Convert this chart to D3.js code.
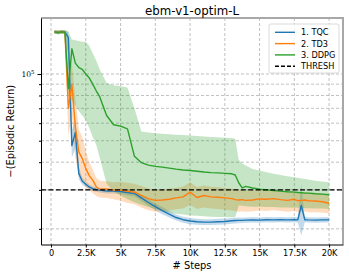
<!DOCTYPE html>
<html>
<head>
<meta charset="utf-8">
<script src="https://cdn.jsdelivr.net/npm/d3@7"></script>
<style>
  body { margin: 0; background: #fff; }
  text { font-family: "DejaVu Sans", sans-serif; fill: #000; }
</style>
</head>
<body>
<div id="chart"></div>
<script>
// evaluation steps
const steps = [250, 500, 750, 1000, 1250, 1500, 1750, 2000, 2250, 2500, 2750, 3000, 3250, 3500,
    4000, 4500, 5000, 5500, 6000, 6500, 7000, 7500, 8000, 8500, 9000, 9500, 10000, 10500, 11000,
    11500, 12000, 12500, 13000, 13250, 13500, 13750, 14000, 14500, 15000, 15500, 16000, 16500,
    17000, 17500, 17750, 18000, 18250, 18500, 19000, 19500, 20000];

// 1. TQC
const tqcMean = [155000, 154000, 155000, 154500, 146000, 47500, 54500, 35500, 32800, 31800, 30900, 30400, 30100, 29900,
    29600, 29600, 29500, 29200, 28900, 27600, 26300, 25200, 24200, 23300, 22500, 22000, 21700, 21550, 21450,
    21450, 21550, 21600, 21750, 21800, 21850, 21850, 21900, 21950, 21900, 22000, 21950, 22000,
    21950, 22000, 21950, 25500, 22000, 21950, 21900, 21950, 21950];
const tqcLo = [152000, 151000, 152000, 151500, 120000, 42000, 46000, 33500, 31600, 30900, 30100, 29700, 29400, 29200,
    28900, 28900, 28700, 28300, 28000, 26700, 25400, 24300, 23300, 22500, 21800, 21300, 21000, 20900, 20800,
    20800, 20900, 20950, 21100, 21150, 21200, 21250, 21300, 21350, 21300, 21400, 21350, 21400,
    21350, 21400, 21350, 18700, 21400, 21350, 21300, 21350, 21350];
const tqcHi = [158000, 157000, 158000, 157500, 155000, 56000, 62000, 38000, 34000, 32800, 31700, 31100, 30800, 30600,
    30300, 30300, 30300, 30100, 29800, 28500, 27200, 26100, 25100, 24100, 23200, 22700, 22400, 22200, 22100,
    22100, 22200, 22250, 22400, 22450, 22500, 22450, 22500, 22550, 22500, 22600, 22550, 22600,
    22550, 22600, 22550, 32000, 22600, 22550, 22500, 22550, 22550];

// 2. TD3
const td3Mean = [155000, 154000, 155000, 154500, 70000, 90000, 58000, 44500, 41500, 37500, 34800, 33200, 31000, 30200,
    30300, 29900, 29900, 29550, 29300, 28300, 27400, 26900, 27000, 27200, 27600, 27900, 29300, 27700, 28300,
    27900, 27800, 27600, 27400, 27100, 27000, 27100, 26900, 27000, 27300, 27200, 27400, 27100,
    26900, 27200, 26800, 26900, 27000, 26800, 26700, 26500, 26100];
const td3Lo = [152000, 151000, 152000, 151500, 52000, 66000, 42000, 35500, 33000, 31000, 29800, 29000, 28200, 27700,
    27600, 27200, 26800, 26200, 25800, 25000, 24300, 23900, 24000, 24200, 24500, 24700, 25600, 24600, 25000,
    24700, 24600, 24400, 24200, 24000, 23900, 24000, 23900, 24000, 24200, 24100, 24300, 24100,
    23900, 24100, 23800, 23900, 24000, 23800, 23800, 23700, 23500];
const td3Hi = [158000, 157000, 158000, 157500, 100000, 112000, 78000, 56000, 52000, 45000, 40000, 37000, 34000, 33000,
    32800, 32500, 32600, 32300, 32000, 31200, 30500, 30000, 30100, 30400, 30700, 31100, 32500, 30900, 31400,
    31000, 30900, 30600, 30400, 30100, 30000, 30000, 29800, 29800, 30000, 29800, 29900, 29600,
    29400, 29600, 29200, 29300, 29400, 29200, 29100, 28900, 28400];

// 3. DDPG
const ddpgMean = [155000, 154000, 155000, 154500, 86000, 130000, 112000, 107000, 105000, 100000, 96000, 90000, 84000, 79000,
    65000, 59000, 58200, 56500, 42500, 39800, 38800, 38300, 38000, 37600, 37200, 36900, 36700, 36400, 36100,
    35900, 35800, 35600, 35450, 35000, 32300, 30600, 31100, 30600, 30200, 30000, 29800, 29600,
    29400, 29300, 29200, 29100, 29000, 29000, 28800, 28700, 28500];
const ddpgLo = [152000, 151000, 152000, 151500, 80000, 76000, 72000, 68000, 65000, 62000, 57000, 52000, 48000, 42000,
    32000, 29500, 28300, 27200, 26400, 25700, 25100, 24600, 24100, 23700, 23400, 23200, 23000, 22900, 22800,
    22700, 22650, 22600, 22550, 22550, 25500, 25400, 25300, 25200, 25200, 25100, 25100, 25000,
    25000, 24900, 24900, 24900, 24800, 24800, 24700, 24700, 24600];
const ddpgHi = [158000, 157000, 158000, 157500, 155000, 143000, 142000, 141000, 140000, 140000, 134000, 124000, 115000, 105000,
    91000, 89000, 88000, 87000, 70000, 55000, 54500, 54000, 53800, 53500, 53200, 53000, 52800, 52500, 52300,
    52000, 51800, 51600, 51400, 51000, 41000, 39500, 38600, 37300, 36700, 36000, 35500, 35000,
    34600, 34200, 34000, 33800, 33600, 33400, 33000, 32700, 32500];

const threshold = 30000;

const xTicks = [0, 2500, 5000, 7500, 10000, 12500, 15000, 17500, 20000];
const xTickLabels = ["0", "2.5K", "5K", "7.5K", "10K", "12.5K", "15K", "17.5K", "20K"];
const yMajorTicks = [100000];
const yMinorTicks = [20000, 30000, 40000, 50000, 60000, 70000, 80000, 90000];

const seriesNames = ["1. TQC", "2. TD3", "3. DDPG"];
const seriesColors = ["#1f77b4", "#ff7f0e", "#2ca02c"];

// set up
const width = 349, height = 278;
const plot = { left: 41, right: 343, top: 18, bottom: 244.5 };

const svg = d3.select("#chart").append("svg")
    .attr("width", width)
    .attr("height", height);

const x = d3.scaleLinear()
    .domain([-720, 21000])
    .range([plot.left, plot.right]);

const y = d3.scaleLog()
    .domain([17000, 179000])
    .range([plot.bottom, plot.top]);

svg.append("defs").append("clipPath")
    .attr("id", "clip")
    .append("rect")
    .attr("x", plot.left)
    .attr("y", plot.top)
    .attr("width", plot.right - plot.left)
    .attr("height", plot.bottom - plot.top);

// grid
const grid = svg.append("g");
grid.selectAll(".vgrid")
    .data(xTicks)
    .enter()
    .append("line")
    .attr("x1", d => x(d)).attr("x2", d => x(d))
    .attr("y1", plot.top).attr("y2", plot.bottom)
    .attr("stroke", "#b0b0b0")
    .attr("stroke-width", 0.8)
    .attr("stroke-dasharray", "3,2");
grid.selectAll(".hgrid")
    .data(yMajorTicks.concat(yMinorTicks))
    .enter()
    .append("line")
    .attr("x1", plot.left).attr("x2", plot.right)
    .attr("y1", d => y(d)).attr("y2", d => y(d))
    .attr("stroke", "#b0b0b0")
    .attr("stroke-width", 0.8)
    .attr("stroke-dasharray", "3,2");

// series
const series = [
    { mean: tqcMean, lo: tqcLo, hi: tqcHi },
    { mean: td3Mean, lo: td3Lo, hi: td3Hi },
    { mean: ddpgMean, lo: ddpgLo, hi: ddpgHi }
];

const area = d3.area()
    .x(d => x(d.step))
    .y0(d => y(d.lo))
    .y1(d => y(d.hi));

const line = d3.line()
    .x(d => x(d.step))
    .y(d => y(d.v));

const plotG = svg.append("g").attr("clip-path", "url(#clip)");

series.forEach((s, i) => {
    const pts = steps.map((st, j) => ({ step: st, lo: s.lo[j], hi: s.hi[j] }));
    plotG.append("path")
        .attr("d", area(pts))
        .attr("fill", seriesColors[i])
        .attr("fill-opacity", 0.27);
});

series.forEach((s, i) => {
    const pts = steps.map((st, j) => ({ step: st, v: s.mean[j] }));
    plotG.append("path")
        .attr("d", line(pts))
        .attr("fill", "none")
        .attr("stroke", seriesColors[i])
        .attr("stroke-width", 1.4)
        .attr("stroke-linejoin", "round");
});

// threshold
plotG.append("line")
    .attr("x1", plot.left).attr("x2", plot.right)
    .attr("y1", y(threshold)).attr("y2", y(threshold))
    .attr("stroke", "#000")
    .attr("stroke-width", 1.4)
    .attr("stroke-dasharray", "5,2.4");

// top and right frame (gray)
svg.append("line")
    .attr("x1", plot.left).attr("x2", plot.right + 1)
    .attr("y1", plot.top).attr("y2", plot.top)
    .attr("stroke", "#a8a8a8").attr("stroke-width", 2);
svg.append("line")
    .attr("x1", plot.right).attr("x2", plot.right)
    .attr("y1", plot.top).attr("y2", plot.bottom)
    .attr("stroke", "#a8a8a8").attr("stroke-width", 2);

// axes
const xAxis = svg.append("g")
    .attr("transform", `translate(0,${plot.bottom})`)
    .call(d3.axisBottom(x)
        .tickValues(xTicks)
        .tickFormat((d, i) => xTickLabels[i])
        .tickSize(3)
        .tickSizeOuter(0)
        .tickPadding(2.5));
xAxis.select(".domain").attr("stroke", "#000").attr("stroke-width", 1);
xAxis.selectAll("text").attr("font-size", 8.2).attr("font-family", "DejaVu Sans");

const yAxis = svg.append("g")
    .attr("transform", `translate(${plot.left},0)`)
    .call(d3.axisLeft(y)
        .tickValues(yMajorTicks)
        .tickFormat("")
        .tickSize(3.5)
        .tickSizeOuter(0));
yAxis.select(".domain").attr("stroke", "#000").attr("stroke-width", 1);

const yMinor = svg.append("g")
    .attr("transform", `translate(${plot.left},0)`)
    .call(d3.axisLeft(y)
        .tickValues(yMinorTicks)
        .tickFormat("")
        .tickSize(2)
        .tickSizeOuter(0));
yMinor.select(".domain").remove();

// 10^5 label
const lab = svg.append("text")
    .attr("x", 34.5)
    .attr("y", y(100000) + 3)
    .attr("text-anchor", "end")
    .style("font-family", "DejaVu Serif, serif")
    .attr("font-size", 7.6);
lab.append("tspan").text("10");
lab.append("tspan").attr("dy", -3.2).attr("font-size", 5.4).text("5");

// title and labels
svg.append("text")
    .attr("x", (plot.left + plot.right) / 2)
    .attr("y", 15)
    .attr("text-anchor", "middle")
    .attr("font-size", 11.8)
    .text("ebm-v1-optim-L");

svg.append("text")
    .attr("x", (plot.left + plot.right) / 2)
    .attr("y", 268.5)
    .attr("text-anchor", "middle")
    .attr("font-size", 9.9)
    .text("# Steps");

svg.append("text")
    .attr("transform", `translate(14,${(plot.top + plot.bottom) / 2}) rotate(-90)`)
    .attr("text-anchor", "middle")
    .attr("font-size", 9.9)
    .text("\u2212(Episodic Return)");

// legend
const legend = svg.append("g").attr("transform", "translate(269,24)");
legend.append("rect")
    .attr("width", 70).attr("height", 49)
    .attr("rx", 2)
    .attr("fill", "#fff").attr("fill-opacity", 0.8)
    .attr("stroke", "#d0d0d0").attr("stroke-width", 0.8);

const legendItems = seriesNames.map((n, i) => ({ name: n, color: seriesColors[i], dash: null }))
    .concat([{ name: "THRESH", color: "#000", dash: "4,2" }]);

const rows = legend.selectAll(".row")
    .data(legendItems)
    .enter()
    .append("g")
    .attr("transform", (d, i) => `translate(0,${8.3 + i * 11.3})`);
rows.append("line")
    .attr("x1", 6).attr("x2", 26)
    .attr("stroke", d => d.color)
    .attr("stroke-width", 1.4)
    .attr("stroke-dasharray", d => d.dash);
rows.append("text")
    .attr("x", 32)
    .attr("y", 3)
    .attr("font-size", 8.2)
    .text(d => d.name);
</script>
</body>
</html>
